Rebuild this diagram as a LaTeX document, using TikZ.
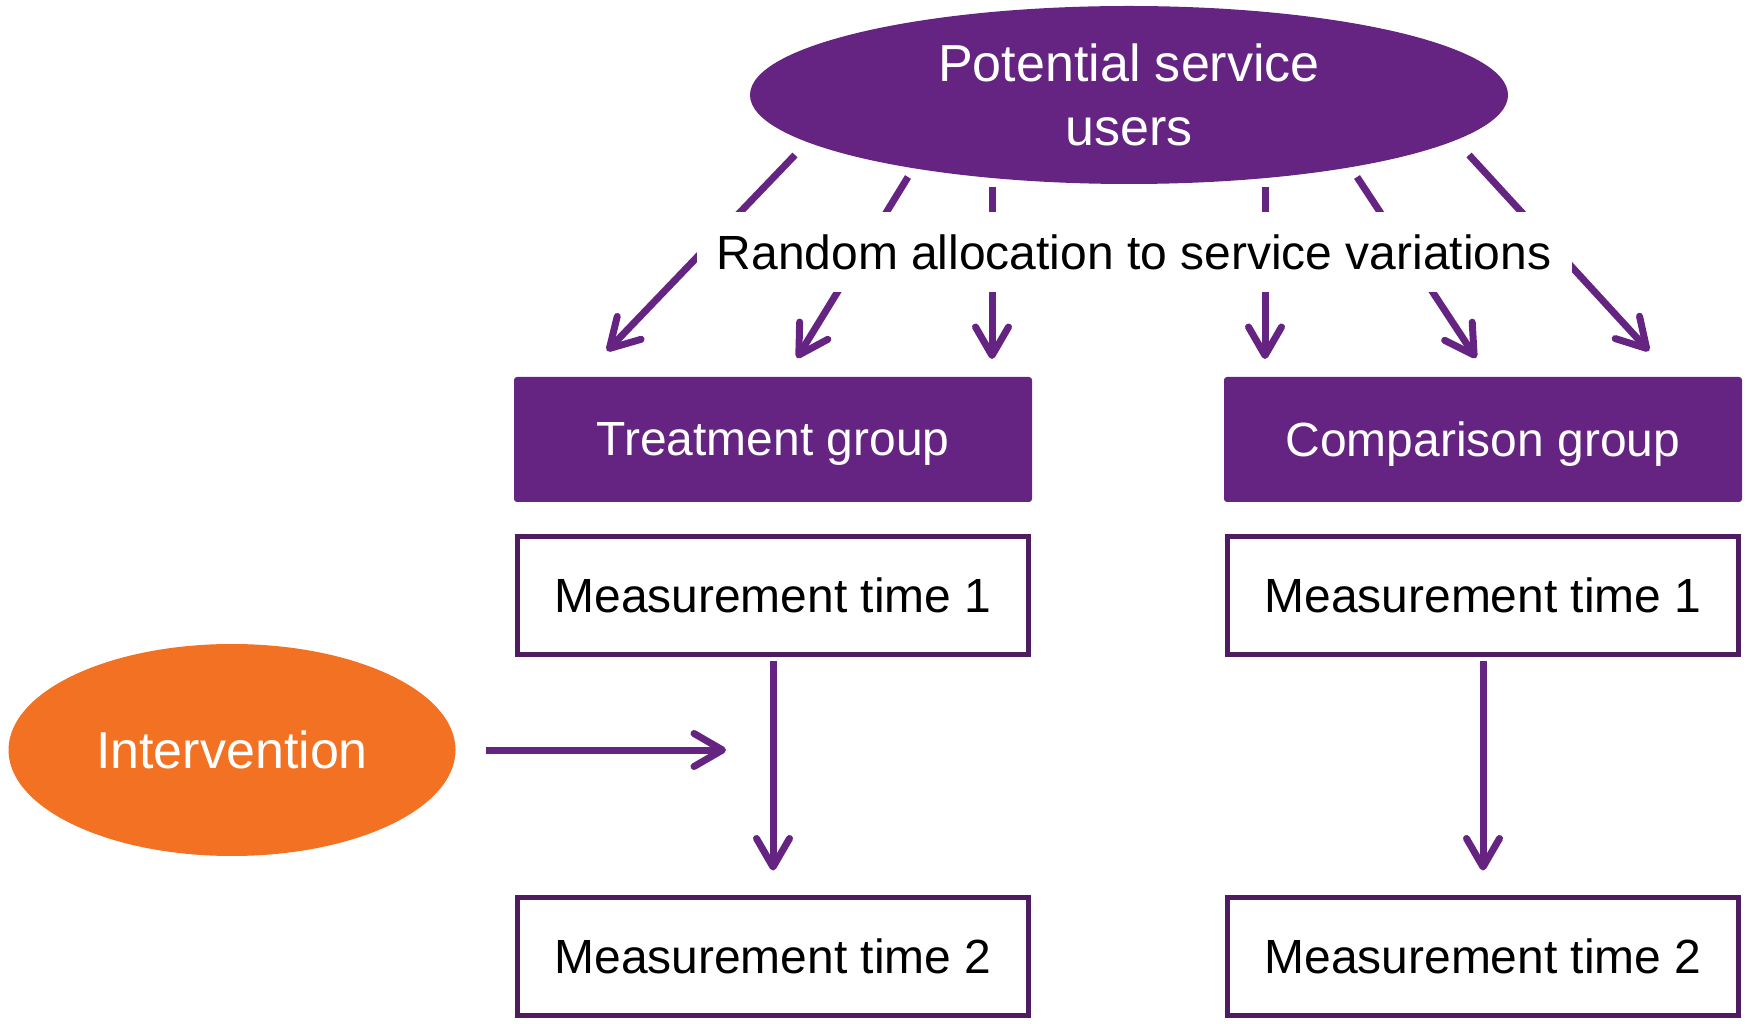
\documentclass[tikz,border=0pt]{standalone}
\usepackage{fontspec}
\setmainfont{Liberation Sans}
\usepackage{xcolor}
\usepackage{tikz}
\usetikzlibrary{arrows.meta}
\usetikzlibrary{shapes.geometric}
\definecolor{rctpurple}{HTML}{662482}
\definecolor{rctdark}{HTML}{4F1C62}
\definecolor{rctorange}{HTML}{F27122}
\tikzstyle{group} = [fill=rctpurple, text=white,
	rounded corners=0.06cm,
	minimum width = 10.36cm,
	minimum height = 2.5cm,
	inner sep=0pt, text depth=0pt,
	font=\fontsize{27.3pt}{32pt}\selectfont]
\tikzstyle{measure} = [draw=rctdark, line width=0.1cm, fill=white,
	minimum width = 10.22cm,
	minimum height = 2.36cm,
	inner sep=0pt,
	font=\fontsize{27.3pt}{32pt}\selectfont]
\tikzstyle{blob} = [ellipse, inner sep=0pt, text=white, align=center,
	font=\fontsize{29.6pt}{36.4pt}\selectfont]
\tikzstyle{arrow} = [-{Straight Barb[length=0.57cm, width=0.66cm, round]}, line width=0.14cm, draw=rctpurple]

\begin{document}
\begin{tikzpicture}
	\useasboundingbox (0,0) rectangle (34.96cm, 20.46cm);
	
	\node (users)[blob, fill=rctpurple, minimum width=15.16cm, minimum height=3.56cm] at (22.58cm, 18.56cm) {Potential service\\users};
	
	\node (treat)[group] at (15.46cm, 11.67cm) {Treatment group};
	\node (comp)[group] at (29.66cm, 11.67cm) {Comparison group};
	
	\node (treat1)[measure] at (15.46cm, 8.55cm) {Measurement time 1};
	\node (treat2)[measure] at (15.46cm, 1.34cm) {Measurement time 2};
	\node (comp1)[measure] at (29.66cm, 8.55cm) {Measurement time 1};
	\node (comp2)[measure] at (29.66cm, 1.34cm) {Measurement time 2};
	
	\node (interv)[blob, fill=rctorange, minimum width=8.94cm, minimum height=4.24cm] at (4.64cm, 5.46cm) {Intervention};
	
	% allocation arrows
	\coordinate (s1) at (15.90cm, 17.36cm); \coordinate (e1) at (12.14cm, 13.44cm);
	\coordinate (s2) at (18.16cm, 16.92cm); \coordinate (e2) at (15.94cm, 13.30cm);
	\coordinate (s3) at (19.84cm, 16.72cm); \coordinate (e3) at (19.84cm, 13.28cm);
	\coordinate (s4) at (25.30cm, 16.72cm); \coordinate (e4) at (25.30cm, 13.28cm);
	\coordinate (s5) at (27.14cm, 16.92cm); \coordinate (e5) at (29.52cm, 13.30cm);
	\coordinate (s6) at (29.38cm, 17.36cm); \coordinate (e6) at (32.98cm, 13.44cm);
	\draw [arrow] (s1) -- (e1);
	\draw [arrow] (s2) -- (e2);
	\draw [arrow] (s3) -- (e3);
	\draw [arrow] (s4) -- (e4);
	\draw [arrow] (s5) -- (e5);
	\draw [arrow] (s6) -- (e6);
	\node (alloc)[fill=white, minimum width=17.5cm, minimum height=1.6cm, inner sep=0pt,
		font=\fontsize{27.3pt}{32pt}\selectfont] at (22.68cm, 15.42cm) {Random allocation to service variations};
	
	% measurement arrows
	\draw [arrow, shorten <=0.08cm, shorten >=0.48cm] (treat1) -- (treat2);
	\draw [arrow, shorten <=0.08cm, shorten >=0.48cm] (comp1) -- (comp2);
	
	\coordinate (hit) at (14.52cm, 5.46cm);
	\draw [arrow, shorten <=0.6cm] (interv) -- (hit);
\end{tikzpicture}
\end{document}
